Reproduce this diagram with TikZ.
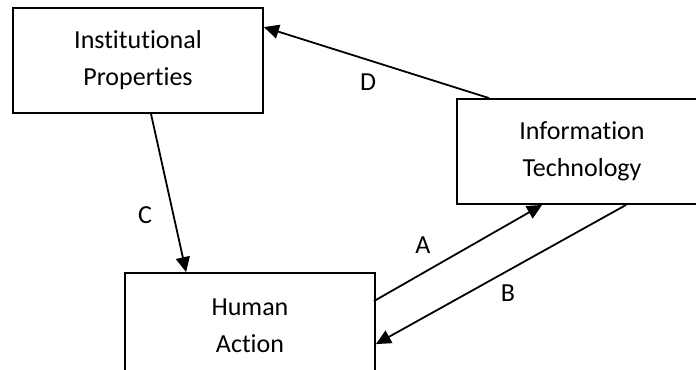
\documentclass[tikz,border=0pt]{standalone}
\usepackage{fontspec}
\setmainfont[Ligatures=NoCommon]{Carlito}
\usepackage{tikz}
\usetikzlibrary{arrows.meta}
\tikzstyle{blk}=[draw, line width=1.8bp, minimum width=250bp, minimum height=105bp, align=center, inner sep=0pt]
\tikzstyle{lnk}=[line width=1.8bp, -{Triangle[length=15bp,width=14bp]}]
\tikzstyle{lbl}=[inner sep=0pt]
\begin{document}
\begin{tikzpicture}[x=1bp,y=-1bp,font=\fontsize{26bp}{37bp}\selectfont]
\useasboundingbox (0,0) rectangle (696,369);
\clip (0,0) rectangle (696,369);
\node[blk] (inst) at (138,60.5) {Institutional\\Properties};
\node[blk] (info) at (582,151.5) {Information\\Technology};
\node[blk] (hum) at (250,325.5) {Human\\Action};
\draw[lnk] ([xshift=-2bp,yshift=-29bp]hum.north east) -- ([xshift=86bp]info.south west);
\draw[lnk] ([xshift=170bp]info.south west) -- ([yshift=-72bp]hum.north east);
\draw[lnk] ([xshift=13bp]inst.south) -- ([xshift=62bp]hum.north west);
\draw[lnk] ([xshift=33bp]info.north west) -- ([yshift=-20bp]inst.north east);
\node[lbl] (la) at (423,245) {A};
\node[lbl] (lb) at (508,293) {B};
\node[lbl] (lc) at (145,215) {C};
\node[lbl] (ld) at (368,82) {D};
\end{tikzpicture}
\end{document}
